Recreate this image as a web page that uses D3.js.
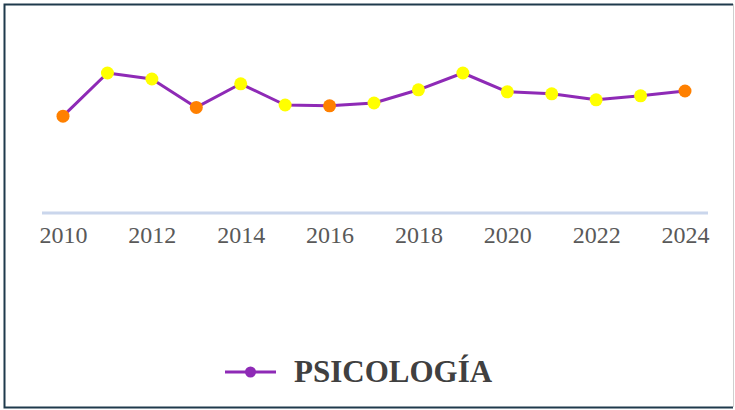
<!DOCTYPE html>
<html>
<head>
<meta charset="utf-8">
<script src="https://cdn.jsdelivr.net/npm/d3@7"></script>
<style>
  body { margin: 0; background: #fff; }
  svg { display: block; }
</style>
</head>
<body>
<div id="chart"></div>
<script>
// data
var years = [2010, 2011, 2012, 2013, 2014, 2015, 2016, 2017, 2018, 2019, 2020, 2021, 2022, 2023, 2024];
var values = [24.2, 35, 33.5, 26.4, 32.3, 27, 26.8, 27.5, 30.8, 35, 30.3, 29.8, 28.3, 29.3, 30.5];
var pointColors = ['#FF8000', '#FFFF00', '#FFFF00', '#FF8000', '#FFFF00', '#FFFF00', '#FF8000', '#FFFF00',
                   '#FFFF00', '#FFFF00', '#FFFF00', '#FFFF00', '#FFFF00', '#FFFF00', '#FF8000'];
var tickYears = [2010, 2012, 2014, 2016, 2018, 2020, 2022, 2024];
var seriesName = 'PSICOLOGÍA';

var width = 735, height = 410;
var lineColor = '#8E2AB6';

var svg = d3.select('#chart').append('svg')
    .attr('width', width)
    .attr('height', height);

// frame
svg.append('path')
    .attr('d', 'M733,4.5 H4.5 V407.5 H733')
    .attr('fill', 'none')
    .attr('stroke', '#1f3a4c')
    .attr('stroke-width', 2);
svg.append('line')
    .attr('x1', 733.5).attr('x2', 733.5).attr('y1', 4).attr('y2', 407)
    .attr('stroke', '#cfcfcf').attr('stroke-width', 1);

var x = d3.scaleLinear().domain([2010, 2024]).range([63, 685]);
var y = d3.scaleLinear().domain([0, 50]).range([213, 13]);

// axis line
svg.append('line')
    .attr('x1', 42).attr('x2', 708)
    .attr('y1', y(0)).attr('y2', y(0))
    .attr('stroke', '#cad6ec')
    .attr('stroke-width', 3);

var xAxis = d3.axisBottom(x).tickValues(tickYears).tickFormat(d3.format('d')).tickSize(0).tickPadding(13);
var gx = svg.append('g')
    .attr('transform', 'translate(0,' + y(0) + ')')
    .call(xAxis);
gx.select('.domain').remove();
gx.selectAll('text')
    .attr('fill', '#595959')
    .style('font-family', '"Liberation Serif", "DejaVu Serif", serif')
    .style('font-size', '24px');

var line = d3.line()
    .x(function(d, i) { return x(years[i]); })
    .y(function(d) { return y(d); });

svg.append('path')
    .datum(values)
    .attr('d', line)
    .attr('fill', 'none')
    .attr('stroke', lineColor)
    .attr('stroke-width', 3)
    .attr('stroke-linejoin', 'round');

svg.selectAll('circle.pt')
    .data(values)
    .enter().append('circle')
    .attr('class', 'pt')
    .attr('cx', function(d, i) { return x(years[i]); })
    .attr('cy', function(d) { return y(d); })
    .attr('r', 6.5)
    .attr('fill', function(d, i) { return pointColors[i]; });

// legend
var legend = svg.append('g').attr('transform', 'translate(225,372)');
legend.append('line')
    .attr('x1', 0).attr('x2', 51).attr('y1', 0).attr('y2', 0)
    .attr('stroke', lineColor).attr('stroke-width', 3);
legend.append('circle')
    .attr('cx', 25.5).attr('cy', 0).attr('r', 5.5)
    .attr('fill', lineColor);
legend.append('text')
    .attr('x', 69).attr('y', 9.5)
    .attr('fill', '#404040')
    .style('font-family', '"Liberation Serif", "DejaVu Serif", serif')
    .style('font-weight', 'bold')
    .style('font-size', '31px')
    .text(seriesName);
</script>
</body>
</html>
